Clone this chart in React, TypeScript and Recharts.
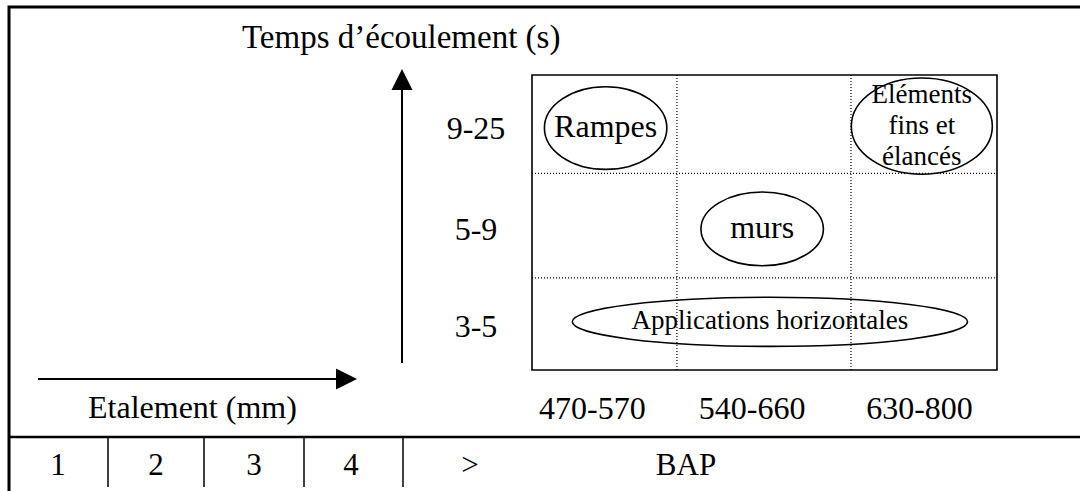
import React from 'react';
import {
    ScatterChart,
    Scatter,
    XAxis,
    YAxis,
    ReferenceArea,
    ReferenceLine
} from 'recharts';

// spreading (étalement) classes along x
const spreadClasses = ['470-570', '540-660', '630-800'];
const spreadTicks = [0.39, 1.42, 2.5];
const spreadBounds = [0.935, 2.058];

// flow time (temps d'écoulement) classes along y
const flowClasses = ['3-5', '5-9', '9-25'];
const flowTicks = [0.45, 1.44, 2.46];
const flowBounds = [0.936, 2.0];

// application zones, extents given in class units
const zoneLines = [['Rampes'], ['Eléments', 'fins et', 'élancés'], ['murs'], ['Applications horizontales']];
const zoneSpread = [[0.08, 0.87], [2.06, 2.97], [1.09, 1.88], [0.26, 2.81]];
const zoneFlow = [[2.04, 2.88], [1.99, 2.97], [1.06, 1.81], [0.24, 0.74]];

// bottom strip
const bapCells = ['1', '2', '3', '4', '>', 'BAP'];

const yTitle = 'Temps d\u2019écoulement (s)';
const xTitle = 'Etalement (mm)';

const FONT = "'Liberation Serif', 'Times New Roman', serif";

const zones = zoneLines.map((lines, i) => ({
    lines,
    x: (zoneSpread[i][0] + zoneSpread[i][1]) / 2,
    y: (zoneFlow[i][0] + zoneFlow[i][1]) / 2
}));

const labelSize = (lines: string[]) => (lines.length > 1 || lines[0].length > 10 ? 27 : 32);

const XTick = (props: any) => {
    const i = spreadTicks.indexOf(props.payload.value);
    return (
        <text x={props.x} y={props.y + 49} textAnchor="middle" fontFamily={FONT} fontSize={32} fill="#000">
            {spreadClasses[i]}
        </text>
    );
};

const YTick = (props: any) => {
    const i = flowTicks.indexOf(props.payload.value);
    return (
        <text x={props.x - 56} y={props.y} dy="0.35em" textAnchor="middle" fontFamily={FONT} fontSize={32} fill="#000">
            {flowClasses[i]}
        </text>
    );
};

const EllipseShape = (props: any) => {
    const { x, y, width, height } = props;
    return (
        <ellipse
            cx={x + width / 2}
            cy={y + height / 2}
            rx={width / 2}
            ry={height / 2}
            fill="none"
            stroke="#000"
            strokeWidth={1.6}
        />
    );
};

const ZoneLabel = (props: any) => {
    const { cx, cy, payload } = props;
    const fs = labelSize(payload.lines);
    const n = payload.lines.length;
    return (
        <g>
            {payload.lines.map((t: string, i: number) => (
                <text
                    key={t}
                    x={cx}
                    y={cy + 0.28 * fs + (i - (n - 1) / 2) * 31}
                    textAnchor="middle"
                    fontFamily={FONT}
                    fontSize={fs}
                    fill="#000"
                >
                    {t}
                </text>
            ))}
        </g>
    );
};

const bapX = [58, 156, 254, 351, 470, 686];

const Decor = () => (
    <svg width={1080} height={491} style={{ position: 'absolute', left: 0, top: 0 }}>
        <path d="M9 491 L9 7 L1080 7" fill="none" stroke="#000" strokeWidth={3} />
        <line x1={8} y1={437} x2={1080} y2={437} stroke="#000" strokeWidth={2.5} />
        {[108, 204, 304, 403].map(x => (
            <line key={x} x1={x} y1={437} x2={x} y2={487} stroke="#000" strokeWidth={1.5} />
        ))}
        {bapCells.map((t, i) => (
            <text key={t} x={bapX[i]} y={475} textAnchor="middle" fontFamily={FONT} fontSize={31} fill="#000">
                {t}
            </text>
        ))}

        {/* axes arrows */}
        <line x1={402} y1={363} x2={402} y2={88} stroke="#000" strokeWidth={2} />
        <polygon points="402,69 391.5,90 412.5,90" fill="#000" />
        <line x1={38} y1={379} x2={338} y2={379} stroke="#000" strokeWidth={2} />
        <polygon points="357,379 336,368.5 336,389.5" fill="#000" />

        <text x={242} y={48} fontFamily={FONT} fontSize={33} fill="#000">{yTitle}</text>
        <text x={88} y={418} fontFamily={FONT} fontSize={32} fill="#000">{xTitle}</text>
    </svg>
);

export default function App() {
    return (
        <div style={{ position: 'absolute', left: 0, top: 0, width: 1080, height: 491, background: '#fff' }}>
            <Decor />
            <div style={{ position: 'absolute', left: 0, top: 0 }}>
                <ScatterChart width={1080} height={491} margin={{ top: 75, right: 83, bottom: 61, left: 452 }}>
                    <XAxis
                        type="number"
                        dataKey="x"
                        domain={[0, 3]}
                        ticks={spreadTicks}
                        interval={0}
                        axisLine={false}
                        tickLine={false}
                        tickSize={0}
                        tickMargin={0}
                        height={60}
                        tick={<XTick />}
                    />
                    <YAxis
                        type="number"
                        dataKey="y"
                        domain={[0, 3]}
                        ticks={flowTicks}
                        interval={0}
                        axisLine={false}
                        tickLine={false}
                        tickSize={0}
                        tickMargin={0}
                        width={80}
                        tick={<YTick />}
                    />
                    <ReferenceArea x1={0} x2={3} y1={0} y2={3} fill="none" fillOpacity={0} stroke="#000" strokeWidth={1.6} />
                    {spreadBounds.map(b => (
                        <ReferenceLine key={'x' + b} x={b} stroke="#000" strokeWidth={1.2} strokeDasharray="1 2" />
                    ))}
                    {flowBounds.map(b => (
                        <ReferenceLine key={'y' + b} y={b} stroke="#000" strokeWidth={1.2} strokeDasharray="1 2" />
                    ))}
                    {zones.map((z, i) => (
                        <ReferenceArea
                            key={z.lines[0]}
                            x1={zoneSpread[i][0]}
                            x2={zoneSpread[i][1]}
                            y1={zoneFlow[i][0]}
                            y2={zoneFlow[i][1]}
                            shape={<EllipseShape />}
                        />
                    ))}
                    <Scatter data={zones} shape={<ZoneLabel />} isAnimationActive={false} />
                </ScatterChart>
            </div>
        </div>
    );
}
